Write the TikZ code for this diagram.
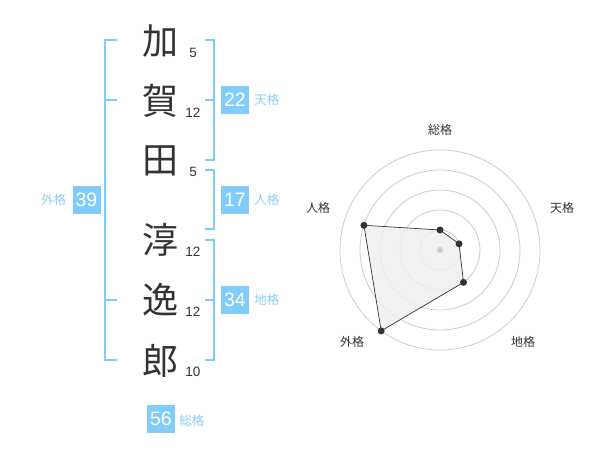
\documentclass[tikz,border=0pt]{standalone}
\usepackage{fontspec}
\setmainfont{Liberation Sans}
\newfontfamily\jpfont{Noto Sans CJK JP}
\usepackage{tikz}
\usetikzlibrary{positioning}
\usepackage{xcolor}

\definecolor{kakublue}{HTML}{80CCFA}
\definecolor{kakutext}{HTML}{8CCFF5}
\definecolor{inkgrey}{HTML}{333333}
\definecolor{ringgrey}{HTML}{CCCCCC}
\definecolor{areagrey}{HTML}{EEEEEE}

\tikzset{
    kanji/.style={inner sep=0pt, anchor=base, text=inkgrey, font=\jpfont\fontsize{36}{36}\selectfont},
    strokes/.style={inner sep=0pt, text=inkgrey, font=\fontsize{13.5}{13.5}\selectfont},
    kakubox/.style={fill=kakublue, text=white, minimum width=28pt, minimum height=28pt, inner sep=0pt, font=\fontsize{19.5}{19.5}\selectfont},
    kakulabel/.style={inner sep=0pt, text=kakutext, font=\jpfont\fontsize{12.5}{12.5}\selectfont},
    bracket/.style={draw=kakublue, line width=2pt},
    ring/.style={draw=ringgrey, line width=0.8pt},
    vertex/.style={circle, fill=inkgrey, minimum size=7pt, inner sep=0pt},
    axislabel/.style={inner sep=0pt, text=inkgrey, font=\jpfont\fontsize{12}{12}\selectfont}
}

\begin{document}
\begin{tikzpicture}[x=1pt, y=-1pt]
        \useasboundingbox (0,0) rectangle (600,470);
        % NODES
        % -----------------
        
        % Name
        \node[kanji] (kaga1) at (160,55) {加};
        \node[kanji] (kaga2) at (160,115) {賀};
        \node[kanji] (kaga3) at (160,174) {田};
        \node[kanji] (jun1) at (160,254) {淳};
        \node[kanji] (jun2) at (160,314) {逸};
        \node[kanji] (jun3) at (160,374) {郎};
        
        % Stroke counts
        \node[strokes, base right=11pt of kaga1, yshift=-2.5pt] (n_kaga1) {5};
        \node[strokes, base right=7pt of kaga2, yshift=-2.5pt] (n_kaga2) {12};
        \node[strokes, base right=11pt of kaga3, yshift=-2.5pt] (n_kaga3) {5};
        \node[strokes, base right=7pt of jun1, yshift=-2.5pt] (n_jun1) {12};
        \node[strokes, base right=7pt of jun2, yshift=-2.5pt] (n_jun2) {12};
        \node[strokes, base right=7pt of jun3, yshift=-2.5pt] (n_jun3) {10};
        
        % Kaku boxes
        \node[kakubox] (tenkaku) at (235,100) {22};
        \node[kakubox] (jinkaku) at (235,200) {17};
        \node[kakubox] (chikaku) at (235,300) {34};
        \node[kakubox] (gaikaku) at (86.5,200) {39};
        \node[kakubox] (soukaku) at (161,419) {56};
        
        \node[kakulabel, right=5pt of tenkaku] (l_ten) {天格};
        \node[kakulabel, right=5pt of jinkaku] (l_jin) {人格};
        \node[kakulabel, right=5pt of chikaku] (l_chi) {地格};
        \node[kakulabel, left=6pt of gaikaku] (l_gai) {外格};
        \node[kakulabel, right=4pt of soukaku, yshift=-2pt] (l_sou) {総格};
        
        % BRACKETS
        % -----------------
        
        % Gaikaku
        \coordinate (gai_top) at (104.5,40);
        \coordinate (gai_up) at (104.5,100);
        \coordinate (gai_low) at (104.5,300);
        \coordinate (gai_bot) at (104.5,360);
        \draw[bracket] ([xshift=12pt]gai_top) -- (gai_top) -- (gai_bot) -- ([xshift=12pt]gai_bot);
        \draw[bracket] (gai_up) -- ++(12,0);
        \draw[bracket] (gai_low) -- ++(12,0);
        
        % Tenkaku
        \coordinate (ten_top) at (214,40);
        \coordinate (ten_mid) at (214,100);
        \coordinate (ten_bot) at (214,160);
        \draw[bracket] ([xshift=-9pt]ten_top) -- (ten_top) -- (ten_bot) -- ([xshift=-9pt]ten_bot);
        \draw[bracket] (ten_mid) -- ++(-9,0);
        
        % Jinkaku
        \coordinate (jin_top) at (214,170);
        \coordinate (jin_bot) at (214,229);
        \draw[bracket] ([xshift=-9pt]jin_top) -- (jin_top) -- (jin_bot) -- ([xshift=-9pt]jin_bot);
        
        % Chikaku
        \coordinate (chi_top) at (214,240);
        \coordinate (chi_mid) at (214,300);
        \coordinate (chi_bot) at (214,360);
        \draw[bracket] ([xshift=-9pt]chi_top) -- (chi_top) -- (chi_bot) -- ([xshift=-9pt]chi_bot);
        \draw[bracket] (chi_mid) -- ++(-9,0);
        
        % RADAR
        % -----------------
        \coordinate (c) at (440,250);
        
        \draw[ring] (c) circle[radius=20];
        \draw[ring] (c) circle[radius=40];
        \draw[ring] (c) circle[radius=60];
        \draw[ring] (c) circle[radius=80];
        \draw[ring] (c) circle[radius=100];
        
        \coordinate (v_sou) at ([shift={(-90:20)}]c);
        \coordinate (v_ten) at ([shift={(-18:20)}]c);
        \coordinate (v_chi) at ([shift={(54:40)}]c);
        \coordinate (v_gai) at ([shift={(126:100)}]c);
        \coordinate (v_jin) at ([shift={(-162:80)}]c);
        
        \filldraw[fill=areagrey, fill opacity=0.8, draw=inkgrey, line width=0.7pt]
            (v_sou) -- (v_ten) -- (v_chi) -- (v_gai) -- (v_jin) -- cycle;
        
        \node[circle, fill=ringgrey, minimum size=6pt, inner sep=0pt] (center) at (c) {};
        \node[vertex] (p_sou) at (v_sou) {};
        \node[vertex] (p_ten) at (v_ten) {};
        \node[vertex] (p_chi) at (v_chi) {};
        \node[vertex] (p_gai) at (v_gai) {};
        \node[vertex] (p_jin) at (v_jin) {};
        
        \node[axislabel] (a_sou) at ([shift={(0,-120)}]c) {総格};
        \node[axislabel] (a_ten) at ([shift={(122,-42)}]c) {天格};
        \node[axislabel] (a_chi) at ([shift={(83,92)}]c) {地格};
        \node[axislabel] (a_gai) at ([shift={(-88,92)}]c) {外格};
        \node[axislabel] (a_jin) at ([shift={(-122,-42)}]c) {人格};
  
    \end{tikzpicture}
\end{document}
